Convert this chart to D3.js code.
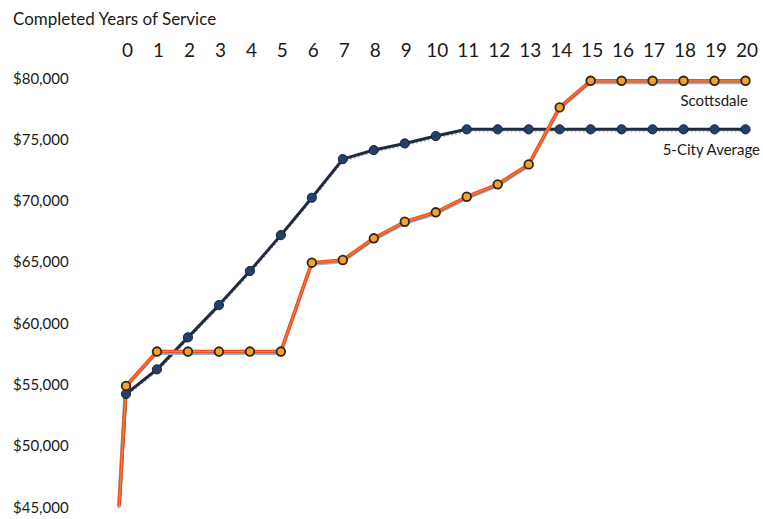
<!DOCTYPE html>
<html>
<head>
<meta charset="utf-8">
<script src="https://cdn.jsdelivr.net/npm/d3@7"></script>
<style>
  html, body { margin: 0; padding: 0; background: #ffffff; }
  svg { display: block; }
  text { font-family: Lato, "Open Sans", sans-serif; fill: #1a1a1a; }
</style>
</head>
<body>
<svg id="chart" width="763" height="519"></svg>
<script>
// Completed years of service (tick labels across the top)
const years = d3.range(0, 21);
// Both series rise from the $45,000 baseline just left of year 0
const startYear = -0.22;
const startValue = 45000;

// Scottsdale salary by completed years of service
const scottsdale = [54800, 57600, 57600, 57600, 57600, 57600, 64850, 65070, 66840, 68190,
                    68960, 70230, 71240, 72870, 77520, 79690, 79690, 79690, 79690, 79690, 79690];
// Average of five comparison cities
const cityAverage = [54140, 56150, 58760, 61390, 64170, 67100, 70150, 73300, 74040, 74580,
                     75180, 75730, 75730, 75730, 75730, 75730, 75730, 75730, 75730, 75730, 75730];

const salaryTicks = [45000, 50000, 55000, 60000, 65000, 70000, 75000, 80000];
const axisTitle = "Completed Years of Service";
const seriesNames = ["Scottsdale", "5-City Average"];

const svg = d3.select("#chart");

const x = d3.scaleLinear().domain([0, 20]).range([126, 745.5]);
const y = d3.scaleLinear().domain([45000, 80000]).range([506, 77]);

// Title
svg.append("text")
  .attr("x", 13).attr("y", 18)
  .attr("dominant-baseline", "central")
  .style("font-size", "17px")
  .text(axisTitle);

// Year axis across the top, labels only
const xAxis = d3.axisTop(x).tickValues(years).tickSize(0).tickPadding(0).tickFormat(d3.format("d"));
const gx = svg.append("g").attr("transform", "translate(1,49)").call(xAxis);
gx.select(".domain").remove();
gx.selectAll("text")
  .attr("y", 0).attr("dy", null)
  .attr("dominant-baseline", "central")
  .style("font-family", "Lato, sans-serif")
  .style("font-size", "19px")
  .style("fill", "#1a1a1a");

// Salary axis on the left, labels only, left aligned
const yAxis = d3.axisLeft(y).tickValues(salaryTicks).tickSize(0).tickPadding(0)
  .tickFormat(d => "$" + d3.format(",")(d));
const gy = svg.append("g").attr("transform", "translate(13,0)").call(yAxis);
gy.select(".domain").remove();
gy.selectAll("text")
  .attr("x", 0).attr("dy", null)
  .attr("text-anchor", "start")
  .attr("dominant-baseline", "central")
  .style("font-family", "Lato, sans-serif")
  .style("font-size", "15px")
  .style("fill", "#1a1a1a");

const withStart = vals => [[startYear, startValue]].concat(vals.map((v, i) => [years[i], v]));
const line = d3.line().x(d => x(d[0])).y(d => y(d[1]));

// 5-City Average: faint grey shadow, then navy line
svg.append("path")
  .attr("d", line(withStart(cityAverage)))
  .attr("transform", "translate(0,2)")
  .attr("fill", "none").attr("stroke", "#b9bcc2").attr("stroke-width", 2)
  .attr("stroke-dasharray", "2,2");
svg.append("path")
  .attr("d", line(withStart(cityAverage)))
  .attr("fill", "none").attr("stroke", "#1f2a3d").attr("stroke-width", 3)
  .attr("stroke-linejoin", "round");

// Scottsdale: light blue under-stroke, orange-red line with a warm core
svg.append("path")
  .attr("d", line(withStart(scottsdale)))
  .attr("transform", "translate(-0.5,1.6)")
  .attr("fill", "none").attr("stroke", "#7db9e3").attr("stroke-width", 3.5)
  .attr("stroke-linejoin", "round");
svg.append("path")
  .attr("d", line(withStart(scottsdale)))
  .attr("fill", "none").attr("stroke", "#f04e1f").attr("stroke-width", 3.6)
  .attr("stroke-linejoin", "round");
svg.append("path")
  .attr("d", line(withStart(scottsdale)))
  .attr("fill", "none").attr("stroke", "#f7a23a").attr("stroke-width", 1)
  .attr("stroke-opacity", 0.7)
  .attr("stroke-linejoin", "round");

// Markers
svg.append("g").selectAll("circle")
  .data(cityAverage)
  .join("circle")
  .attr("cx", (d, i) => x(years[i]))
  .attr("cy", d => y(d))
  .attr("r", 4.6)
  .attr("fill", "#21406a")
  .attr("stroke", "#1a2435").attr("stroke-width", 1);

svg.append("g").selectAll("circle")
  .data(scottsdale)
  .join("circle")
  .attr("cx", (d, i) => x(years[i]))
  .attr("cy", d => y(d))
  .attr("r", 4.3)
  .attr("fill", "#f4a22c")
  .attr("stroke", "#2e2418").attr("stroke-width", 1.8);

// Series labels at the right end
svg.append("text")
  .attr("x", 748).attr("y", 100)
  .attr("text-anchor", "end").attr("dominant-baseline", "central")
  .style("font-size", "15px")
  .text(seriesNames[0]);
svg.append("text")
  .attr("x", 760).attr("y", 149)
  .attr("text-anchor", "end").attr("dominant-baseline", "central")
  .style("font-size", "15px")
  .text(seriesNames[1]);
</script>
</body>
</html>
